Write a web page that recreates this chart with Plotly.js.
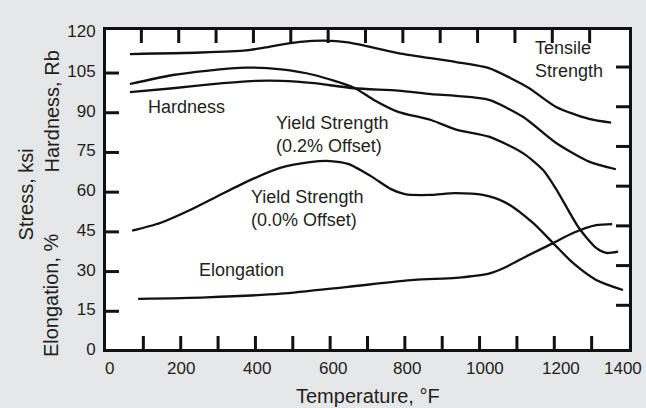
<!DOCTYPE html>
<html>
<head>
<meta charset="utf-8">
<script src="https://cdn.plot.ly/plotly-3.0.1.min.js"></script>
<style>html,body{margin:0;padding:0;background:#fff;}#chart{width:646px;height:408px;}</style>
</head>
<body>
<div id="chart"></div>
<script>
// Temperature (°F) and values
const tempTensile = [64, 252, 375, 426, 469, 519, 584, 648, 782, 937, 1025, 1082, 1132, 1205, 1293, 1352];
const tensileStrength = [111.4, 112.0, 112.8, 113.9, 115.0, 116.0, 116.5, 115.8, 111.8, 108.4, 106.1, 102.4, 98.6, 91.4, 86.9, 85.5];

const tempYield02 = [64, 179, 268, 375, 469, 557, 664, 717, 782, 870, 937, 1025, 1116, 1170, 1205, 1266, 1312, 1339, 1371];
const yield02 = [100.1, 103.5, 105.1, 106.3, 105.6, 103.5, 98.7, 94.1, 89.6, 86.5, 82.9, 80.2, 74.0, 67.6, 60.4, 45.7, 38.2, 36.3, 36.8];

const tempHardness = [64, 179, 313, 402, 469, 557, 664, 782, 870, 937, 1025, 1116, 1205, 1293, 1365];
const hardness = [97.0, 98.5, 100.4, 101.3, 101.3, 100.4, 98.5, 97.6, 96.3, 95.6, 94.1, 87.7, 77.8, 70.8, 67.9];

const tempYield00 = [70, 145, 225, 305, 386, 466, 546, 600, 648, 709, 763, 800, 867, 934, 1009, 1071, 1143, 1197, 1250, 1312, 1384];
const yield00 = [44.7, 47.6, 52.5, 58.2, 63.8, 68.4, 70.6, 71.0, 69.9, 65.3, 60.4, 58.5, 58.2, 58.9, 58.2, 55.2, 47.6, 40.0, 32.5, 26.1, 22.3];

const tempElong = [86, 268, 469, 648, 825, 937, 1025, 1071, 1132, 1197, 1250, 1312, 1355];
const elongation = [18.9, 19.5, 20.9, 23.5, 26.1, 26.9, 28.5, 31.0, 35.5, 40.0, 43.8, 46.8, 47.2];

// Axis ticks and labels
const xTickLabels = [0, 200, 400, 600, 800, 1000, 1200, 1400];
const xMinorTicks = [100, 200, 300, 400, 500, 600, 700, 800, 900, 1000, 1100, 1200, 1300];
const yTickLabels = [0, 15, 30, 45, 60, 75, 90, 105, 120];
const yMinorTicks = [15, 30, 45, 60, 75, 90, 105];

const FONT = "Liberation Sans, Arial, Helvetica, sans-serif";
const INK = '#111111';
const TXT = '#231f20';
const PANEL = '#e6e7e8';

const W = 646, H = 408, M = {l: 106, r: 17, t: 30, b: 59};
const X_RANGE = [0, 1400], Y_RANGE = [0, 120.5];
const xPerPx = (X_RANGE[1] - X_RANGE[0]) / (W - M.l - M.r);
const yPerPx = (Y_RANGE[1] - Y_RANGE[0]) / (H - M.t - M.b);
const TICKLEN = 13;

function curve(x, y) {
  return {x: x, y: y, type: 'scatter', mode: 'lines',
    line: {color: INK, width: 2.3, shape: 'spline', smoothing: 0.7},
    hoverinfo: 'skip', showlegend: false};
}

const traces = [
  curve(tempTensile, tensileStrength),
  curve(tempYield02, yield02),
  curve(tempHardness, hardness),
  curve(tempYield00, yield00),
  curve(tempElong, elongation)
];

// inside tick marks on all four sides, as line shapes in axis coordinates
function tick(x0, x1, y0, y1) {
  return {type: 'line', xref: 'x', yref: 'y', x0: x0, x1: x1, y0: y0, y1: y1,
    line: {color: INK, width: 3}};
}
const tickShapes = [];
xMinorTicks.forEach(function (v) {
  tickShapes.push(tick(v, v, Y_RANGE[0], Y_RANGE[0] + TICKLEN * yPerPx));
  const vt = v - 2 * xPerPx;
  tickShapes.push(tick(vt, vt, Y_RANGE[1], Y_RANGE[1] - TICKLEN * yPerPx));
});
yMinorTicks.forEach(function (v) {
  const vl = v - 2 * yPerPx;
  tickShapes.push(tick(X_RANGE[0], X_RANGE[0] + TICKLEN * xPerPx, vl, vl));
  const vr = v + 4 * yPerPx;
  tickShapes.push(tick(X_RANGE[1], X_RANGE[1] - TICKLEN * xPerPx, vr, vr));
});

function label(text, x, y, size, extra) {
  return Object.assign({text: text, xref: 'paper', yref: 'paper', x: x, y: y,
    xanchor: 'left', yanchor: 'middle', align: 'left', showarrow: false, borderpad: 0,
    font: {family: FONT, size: size, color: TXT}}, extra || {});
}

const xLabelShift = [3, 0, 2, 3, 2, 5, 7, -6];
const xTickAnnotations = xTickLabels.map(function (v, i) {
  return {text: String(v), xref: 'x', yref: 'paper', x: v, y: 0,
    xanchor: 'center', yanchor: 'middle', xshift: xLabelShift[i], yshift: -19,
    showarrow: false, borderpad: 0, font: {family: FONT, size: 17, color: TXT}};
});

const layout = {
  width: W, height: H,
  margin: M,
  paper_bgcolor: PANEL,
  plot_bgcolor: '#ffffff',
  font: {family: FONT, color: TXT},
  showlegend: false,
  xaxis: {
    range: X_RANGE, showticklabels: false, ticks: '',
    showline: true, linecolor: INK, linewidth: 3, mirror: true,
    showgrid: false, zeroline: false
  },
  yaxis: {
    range: Y_RANGE, tickmode: 'array', tickvals: yTickLabels, ticktext: yTickLabels.map(String),
    ticks: '', showline: true, linecolor: INK, linewidth: 3, mirror: true,
    showgrid: false, zeroline: false, ticklabelstandoff: 4,
    tickfont: {family: FONT, size: 17, color: TXT}
  },
  shapes: tickShapes,
  annotations: [
    label('Tensile<br>Strength', 0.8184, 0.906, 18),
    label('Hardness', 0.0778, 0.7577, 18),
    label('Yield Strength<br>(0.2% Offset)', 0.3231, 0.6724, 18),
    label('Yield Strength<br>(0.0% Offset)', 0.2753, 0.4395, 18),
    label('Elongation', 0.1753, 0.2476, 18),
    label('Temperature, °F', 0.5, -0.1458, 20, {xanchor: 'center'}),
    label('Stress, ksi', -0.1539, 0.483, 20, {xanchor: 'center', textangle: -90}),
    label('Hardness, Rb', -0.1024, 0.746, 20, {xanchor: 'center', textangle: -90}),
    label('Elongation, %', -0.1052, 0.169, 20, {xanchor: 'center', textangle: -90})
  ].concat(xTickAnnotations)
};

Plotly.newPlot('chart', traces, layout, {displayModeBar: false});
</script>
</body>
</html>
